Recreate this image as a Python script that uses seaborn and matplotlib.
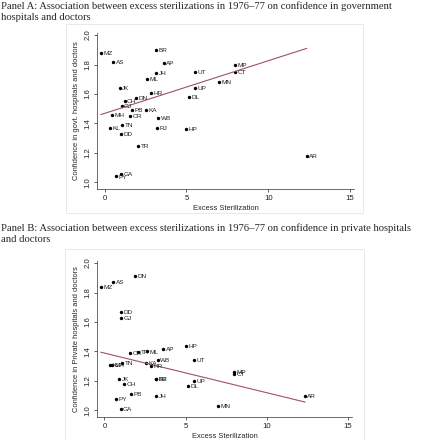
import matplotlib
matplotlib.use("Agg")
import matplotlib.pyplot as plt
from matplotlib.patches import Rectangle
import pandas as pd
import seaborn as sns

states = ["MZ", "AS", "BR", "AP", "JH", "UT", "ML", "MN", "JK", "UP", "HR",
          "DL", "DN", "CH", "GJ", "PB", "KA", "MH", "OR", "WB", "KL", "TN",
          "DD", "RJ", "HP", "TR", "GA", "PY", "MP", "CT", "AR"]
excess = [-0.23, 0.54, 3.17, 3.61, 3.17, 5.51, 2.62, 7.0, 0.92, 5.51, 2.85,
          5.16, 1.91, 1.22, 1.04, 1.65, 2.56, 0.44, 1.58, 3.27, 0.34, 1.08,
          0.99, 3.2, 5.0, 2.06, 0.99, 0.71, 7.96, 7.96, 12.34]
govt = [1.88, 1.82, 1.90, 1.81, 1.74, 1.75, 1.70, 1.68, 1.64, 1.64, 1.61,
        1.58, 1.57, 1.55, 1.52, 1.49, 1.49, 1.46, 1.45, 1.44, 1.37, 1.39,
        1.33, 1.37, 1.36, 1.245, 1.055, 1.04, 1.80, 1.75, 1.18]
private = [1.84, 1.87, 1.21, 1.42, 1.095, 1.34, 1.40, 1.03, 1.21, 1.20, 1.30,
           1.165, 1.91, 1.18, 1.63, 1.11, 1.32, 1.31, 1.39, 1.34, 1.31, 1.32,
           1.67, 1.21, 1.44, 1.395, 1.01, 1.08, 1.26, 1.25, 1.10]

# fitted lines as printed in the figure (end points)
fit_x = [-0.23, 12.36]
fit_govt = [1.46, 1.91]
fit_private = [1.395, 1.056]

title_a = ["Panel A: Association between excess sterilizations in 1976\u201377 on confidence in government",
           "hospitals and doctors"]
title_b = ["Panel B: Association between excess sterilizations in 1976\u201377 on confidence in private hospitals",
           "and doctors"]

df = pd.DataFrame({"state": states, "excess": excess,
                   "govt": govt, "private": private})
fits = pd.DataFrame({"excess": fit_x, "govt": fit_govt, "private": fit_private})

sns.set_style("ticks")
plt.rcParams["font.family"] = ["Liberation Sans", "DejaVu Sans"]

W, H = 426, 440
fig = plt.figure(figsize=(W / 100, H / 100), dpi=100)
line_col = "#a0525e"


def px_axes(left, top, right, bottom):
    return fig.add_axes([left / W, 1 - bottom / H, (right - left) / W, (bottom - top) / H])


def frame(left, top, right, bottom):
    fig.patches.append(Rectangle((left / W, 1 - bottom / H), (right - left) / W,
                                 (bottom - top) / H, transform=fig.transFigure,
                                 fill=False, ec="#e6e6e6", lw=0.6))


def panel(ax, ycol, ylabel):
    sns.scatterplot(data=df, x="excess", y=ycol, ax=ax, color="black",
                    s=6, linewidth=0)
    sns.lineplot(data=fits, x="excess", y=ycol, ax=ax, color=line_col, lw=0.8)
    for st, xv, yv in zip(df["state"], df["excess"], df[ycol]):
        ax.annotate(st, (xv, yv), xytext=(1.8, -0.4), textcoords="offset points",
                    fontsize=4.6, va="center", ha="left", color="#222222")
    ax.set_xlim(-0.46, 15.24)
    ax.set_ylim(0.955, 2.014)
    ax.set_xticks([0, 5, 10, 15])
    ax.set_yticks([1.0, 1.2, 1.4, 1.6, 1.8, 2.0])
    ax.set_yticklabels(["1.0", "1.2", "1.4", "1.6", "1.8", "2.0"],
                       rotation=90, va="center")
    ax.tick_params(labelsize=5.6, length=2.2, width=0.5, pad=1.8, colors="#222222")
    ax.set_xlabel("Excess Sterilization", fontsize=5.4, labelpad=2.5)
    ax.set_ylabel(ylabel, fontsize=5.4, labelpad=3)
    sns.despine(ax=ax)
    for sp in ("left", "bottom"):
        ax.spines[sp].set_linewidth(0.5)
        ax.spines[sp].set_color("#333333")
    ax.set_facecolor("white")


frame(66, 24, 363, 213)
frame(65, 249, 364, 445)

ax_a = px_axes(97, 33, 354, 189)
panel(ax_a, "govt", "Confidence in govt. hospitals and doctors")

ax_b = px_axes(97, 261, 352, 417)
panel(ax_b, "private", "Confidence in Private hospitals and doctors")

for i, t in enumerate(title_a):
    fig.text(1 / W, 1 - (6 + 12 * i) / H, t, fontsize=7.7, va="center",
             ha="left", family=["Liberation Serif", "DejaVu Serif"])
for i, t in enumerate(title_b):
    fig.text(1 / W, 1 - (228 + 12 * i) / H, t, fontsize=7.7, va="center",
             ha="left", family=["Liberation Serif", "DejaVu Serif"])

fig.savefig("out.png", dpi=100, facecolor="white")
